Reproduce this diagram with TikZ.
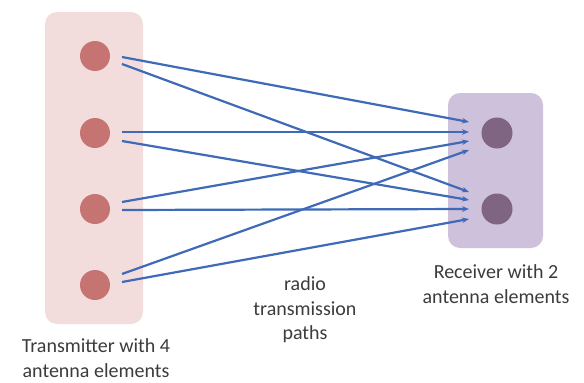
\documentclass[tikz,border=0pt]{standalone}
\usepackage{fontspec}
\setmainfont{Carlito}
\usetikzlibrary{arrows.meta}
\definecolor{txbox}{RGB}{242,221,220}
\definecolor{txdot}{RGB}{198,116,114}
\definecolor{rxbox}{RGB}{205,193,219}
\definecolor{rxdot}{RGB}{128,101,130}
\definecolor{path}{RGB}{62,106,184}
\definecolor{labeltext}{RGB}{60,60,60}
\tikzset{
  panel/.style={rounded corners=12pt, draw=none},
  txant/.style={circle, fill=txdot, minimum size=30pt, inner sep=0pt},
  rxant/.style={circle, fill=rxdot, minimum size=31pt, inner sep=0pt},
  ray/.style={draw=path, line width=2.2pt, -{Stealth[length=7pt,width=5.5pt]}},
  caption/.style={align=center, font=\fontsize{20}{24.5}\selectfont, text=labeltext, inner sep=0pt},
}
\begin{document}
\begin{tikzpicture}[x=1pt,y=-1pt]
\useasboundingbox (0,0) rectangle (584,383);
\fill[white] (0,0) rectangle (584,383);
% panels
\node[panel, fill=txbox, minimum width=98pt, minimum height=312pt, inner sep=0pt] (tx) at (94,168) {};
\node[panel, fill=rxbox, minimum width=95pt, minimum height=155pt, inner sep=0pt] (rx) at (495.5,170.5) {};
% antennas
\node[txant] (t1) at (95,56) {};
\node[txant] (t2) at (95,133) {};
\node[txant] (t3) at (95,209) {};
\node[txant] (t4) at (95,285) {};
\node[rxant] (r1) at (497,133) {};
\node[rxant] (r2) at (497,209) {};
% path end points
\coordinate (t1a) at (122,57);
\coordinate (t1b) at (122,64);
\coordinate (t2a) at (122,132);
\coordinate (t2b) at (122,141);
\coordinate (t3a) at (122,202);
\coordinate (t3b) at (122,210);
\coordinate (t4a) at (122,274);
\coordinate (t4b) at (122,282);
\coordinate (r1a) at (469,122);
\coordinate (r1b) at (469,132);
\coordinate (r1c) at (469,141);
\coordinate (r1d) at (469,150);
\coordinate (r2a) at (469,192);
\coordinate (r2b) at (469,200);
\coordinate (r2c) at (469,209);
\coordinate (r2d) at (469,219);
% paths
\draw[ray] (t1a) -- (r1a);
\draw[ray] (t1b) -- (r2a);
\draw[ray] (t2a) -- (r1b);
\draw[ray] (t2b) -- (r2b);
\draw[ray] (t3a) -- (r1c);
\draw[ray] (t3b) -- (r2c);
\draw[ray] (t4a) -- (r1d);
\draw[ray] (t4b) -- (r2d);
% labels
\node[caption] (txlabel) at (96,358) {Transmitter with 4\\antenna elements};
\node[caption] (rxlabel) at (496,284) {Receiver with 2\\antenna elements};
\node[caption] (pathlabel) at (305,310) {radio\\transmission\\paths};
\end{tikzpicture}
\end{document}
